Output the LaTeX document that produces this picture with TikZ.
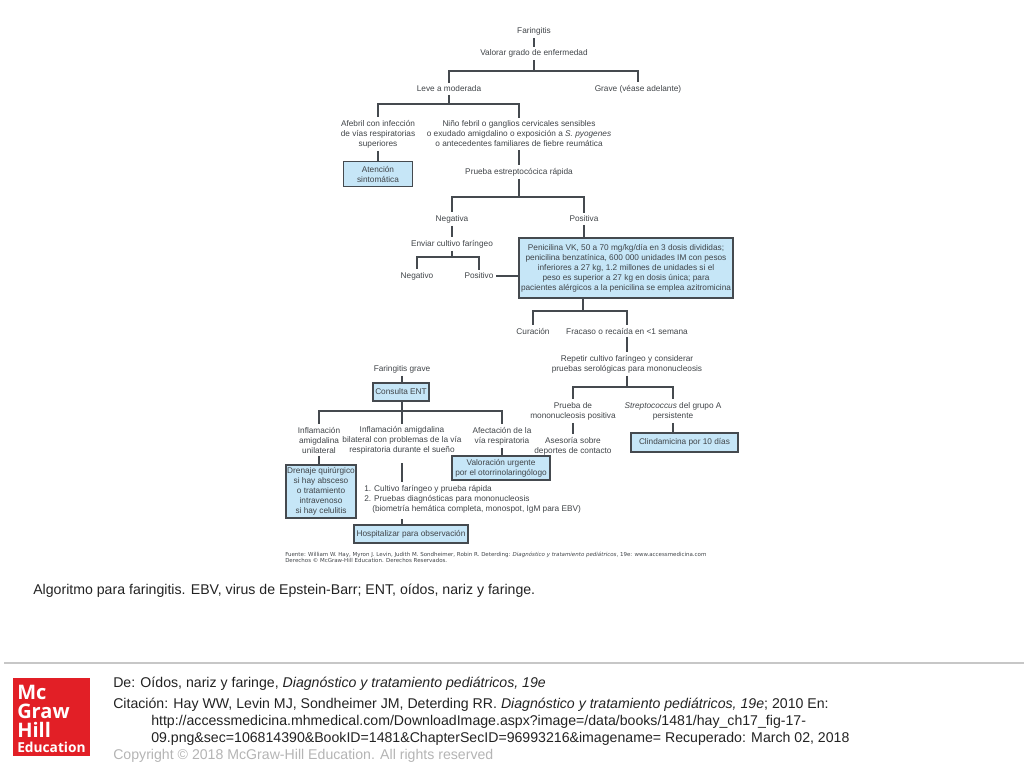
\documentclass[tikz,border=0pt]{standalone}
\usepackage{fontspec}
\setmainfont{Liberation Sans}
\newfontfamily\srcfont{DejaVu Sans}
\newfontfamily\logofont{Open Sans}
\definecolor{inktxt}{HTML}{404448}
\definecolor{inkline}{HTML}{454A4F}
\definecolor{boxblue}{HTML}{C6E6F7}
\definecolor{logored}{HTML}{E21F26}
\definecolor{foot}{HTML}{222222}
\definecolor{copyg}{HTML}{B4B4B4}
\tikzset{
 basetxt/.style={align=center,text=inktxt,font=\fontsize{6.2}{7.5}\selectfont},
 txt/.style={basetxt,inner sep=2pt,yshift=-0.75pt},
 bx/.style={basetxt,draw=inkline,line width=1.1pt,fill=boxblue,inner sep=0pt,minimum width=#1},
 ln/.style={draw=inkline,line width=0.95pt},
 capt/.style={inner sep=0pt,anchor=west,text=foot,yshift=-1pt,font=\fontsize{10.6}{12}\selectfont},
 logot/.style={inner sep=0pt,anchor=west,text=white,font=\logofont\bfseries\fontsize{15}{16}\selectfont}
}
\begin{document}
\begin{tikzpicture}[x=0.75pt,y=-0.75pt]
\useasboundingbox (0,0) rectangle (1024,768);
% upper tree
\node[txt] (far) at (534,30) {Faringitis};
\node[txt] (val) at (534,52.5) {Valorar grado de enfermedad};
\coordinate (b1) at (534,71);
\node[txt] (leve) at (449,88) {Leve a moderada};
\node[txt] (grave) at (638,88) {Grave (véase adelante)};
\coordinate (b2) at (449,104);
\node[txt] (afe) at (378,133) {Afebril con infección\\de vías respiratorias\\superiores};
\node[txt] (nino) at (519,133) {Niño febril o ganglios cervicales sensibles\\o exudado amigdalino o exposición a \emph{S. pyogenes}\\o antecedentes familiares de fiebre reumática};
\node[bx=69*0.75pt,minimum height=25*0.75pt] (aten) at (378,174) {Atención\\sintomática};
\node[txt] (rap) at (519,171) {Prueba estreptocócica rápida};
\coordinate (b3) at (519,197);
\node[txt] (neg) at (452,218) {Negativa};
\node[txt] (pos) at (584,218) {Positiva};
\node[txt] (env) at (452,243) {Enviar cultivo faríngeo};
\coordinate (b4) at (452,257);
\node[txt] (ngo) at (417,275) {Negativo};
\node[txt] (pso) at (479,275) {Positivo};
\node[bx=214*0.75pt,minimum height=60*0.75pt] (pen) at (626,268) {Penicilina VK, 50 a 70 mg/kg/día en 3 dosis divididas;\\penicilina benzatínica, 600 000 unidades IM con pesos\\inferiores a 27 kg, 1.2 millones de unidades si el\\peso es superior a 27 kg en dosis única; para\\pacientes alérgicos a la penicilina se emplea azitromicina};
\coordinate (b5) at (583,311);
\node[txt] (cur) at (533,330) {Curación};
\node[txt] (fra) at (627,330) {Fracaso o recaída en <1 semana};
\node[txt] (rep) at (627,363) {Repetir cultivo faríngeo y considerar\\pruebas serológicas para mononucleosis};
\coordinate (b6) at (627,387);
\node[txt] (mon) at (573,410) {Prueba de\\mononucleosis positiva};
\node[txt] (str) at (673,410) {\emph{Streptococcus} del grupo A\\persistente};
\node[txt] (ase) at (573,445) {Asesoría sobre\\deportes de contacto};
\node[bx=107*0.75pt,minimum height=19*0.75pt] (cli) at (684.5,442.5) {Clindamicina por 10 días};
% lower tree
\node[txt] (fg) at (402,368) {Faringitis grave};
\node[bx=56*0.75pt,minimum height=18*0.75pt] (ent) at (401,392) {Consulta ENT};
\coordinate (b7) at (402,411);
\node[txt] (iu) at (319,439) {Inflamación\\amigdalina\\unilateral};
\node[txt] (ib) at (402,439.5) {Inflamación amigdalina\\bilateral con problemas de la vía\\respiratoria durante el sueño};
\node[txt] (av) at (502,435) {Afectación de la\\vía respiratoria};
\node[bx=70*0.75pt,minimum height=53*0.75pt] (dre) at (321,491.5) {Drenaje quirúrgico\\si hay absceso\\o tratamiento\\intravenoso\\si hay celulitis};
\node[bx=98*0.75pt,minimum height=24*0.75pt] (vu) at (501,468) {Valoración urgente\\por el otorrinolaringólogo};
\node[basetxt,align=left,anchor=north west,inner sep=0pt] (lis) at (364,485.5) {1. Cultivo faríngeo y prueba rápida\\2. Pruebas diagnósticas para mononucleosis\\\hspace*{6pt}(biometría hemática completa, monospot, IgM para EBV)};
\coordinate (l0) at (402,463);
\coordinate (lt) at (402,482);
\coordinate (lb) at (402,519);
\node[bx=114*0.75pt,minimum height=18*0.75pt] (hos) at (411,534) {Hospitalizar para observación};
% source
\node[anchor=north west,inner sep=0pt,align=left,text=inktxt,font=\srcfont\fontsize{4.12}{4.9}\selectfont] (src) at (285,551.5) {Fuente: William W. Hay, Myron J. Levin, Judith M. Sondheimer, Robin R. Deterding: \emph{Diagnóstico y tratamiento pediátricos}, 19e: www.accessmedicina.com\\Derechos © McGraw-Hill Education. Derechos Reservados.};
% connectors
\draw[ln] (far) -- (val);
\draw[ln] (val) -- (b1);
\draw[ln] (b1) -| (leve);
\draw[ln] (b1) -| (grave);
\draw[ln] (leve) -- (b2);
\draw[ln] (b2) -| (afe);
\draw[ln] (b2) -| (nino);
\draw[ln] (afe) -- (aten);
\draw[ln] (nino) -- (rap);
\draw[ln] (rap) -- (b3);
\draw[ln] (b3) -| (neg);
\draw[ln] (b3) -| (pos);
\draw[ln] (pos.south) -- (pos.south |- pen.north);
\draw[ln] (neg) -- (env);
\draw[ln] (env) -- (b4);
\draw[ln] (b4) -| (ngo);
\draw[ln] (b4) -| (pso);
\draw[ln] (pso) -- (pen.west |- pso);
\draw[ln] (b5 |- pen.south) -- (b5);
\draw[ln] (b5) -| (cur);
\draw[ln] (b5) -| (fra);
\draw[ln] (fra) -- (rep);
\draw[ln] (rep) -- (b6);
\draw[ln] (b6) -| (mon);
\draw[ln] (b6) -| (str);
\draw[ln] (mon) -- (ase);
\draw[ln] (str.south) -- (str.south |- cli.north);
\draw[ln] (fg.south) -- (fg.south |- ent.north);
\draw[ln] (fg.south |- ent.south) -- (b7);
\draw[ln] (b7) -| (iu);
\draw[ln] (b7) -| (av);
\draw[ln] (b7) -- (ib);
\draw[ln] (iu.south) -- (iu.south |- dre.north);
\draw[ln] (av.south) -- (av.south |- vu.north);
\draw[ln] (l0) -- (lt);
\draw[ln] (lb) -- (lb |- hos.north);
% caption and footer
\node[capt] (cap) at (33,589) {Algoritmo para faringitis. EBV, virus de Epstein-Barr; ENT, oídos, nariz y faringe.};
\draw[draw=black!22,line width=1.1pt] (4,663) -- (1024,663);
\fill[logored] (13,678) rectangle (90,756);
\node[logot] (l1) at (17,692) {Mc};
\node[logot] (l2) at (17,711) {Graw};
\node[logot] (l3) at (17,730) {Hill};
\node[logot,font=\logofont\bfseries\fontsize{10.3}{11}\selectfont] (l4) at (17,747) {Education};
\node[capt] (de) at (113,682) {De: Oídos, nariz y faringe, \emph{Diagnóstico y tratamiento pediátricos, 19e}};
\node[capt] (ci) at (113,703.5) {Citación: Hay WW, Levin MJ, Sondheimer JM, Deterding RR. \emph{Diagnóstico y tratamiento pediátricos, 19e}; 2010 En:};
\node[capt] (ur) at (151,720.5) {http://accessmedicina.mhmedical.com/DownloadImage.aspx?image=/data/books/1481/hay\_ch17\_fig-17-};
\node[capt] (u2) at (151,737.5) {09.png\&sec=106814390\&BookID=1481\&ChapterSecID=96993216\&imagename= Recuperado: March 02, 2018};
\node[capt,text=copyg] (co) at (113,754.5) {Copyright © 2018 McGraw-Hill Education. All rights reserved};
\end{tikzpicture}
\end{document}
